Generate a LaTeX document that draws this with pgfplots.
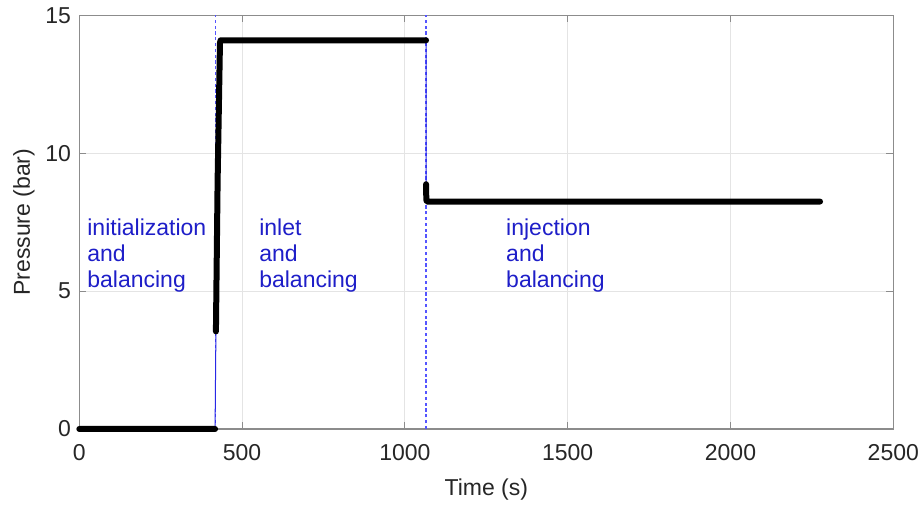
\documentclass[border=0pt]{standalone}
\usepackage{fontspec}
\setmainfont{Liberation Sans}
\usepackage{pgfplots}
\pgfplotsset{compat=1.18}
\usepackage{pgfplotstable}

\definecolor{axgray}{RGB}{140,140,140}
\definecolor{gridgray}{RGB}{228,228,228}
\definecolor{labgray}{RGB}{38,38,38}
\definecolor{txtblue}{RGB}{30,30,200}
\definecolor{lineblue}{RGB}{40,40,230}
\definecolor{dashblue}{RGB}{85,85,255}

% Measured pressure: full trace (thin connecting line)
\pgfplotstableread{
t p
0 0
417 0
419.6 3.54
424.8 9.0
432 14.0
434 14.1
1065 14.1
1065 8.88
1065.5 8.5
1066 8.3
1068 8.25
2275 8.25
}\pressureline

% Same samples, drawn as dense markers (jumps between phases left open)
\pgfplotstableread{
t p
0 0
417 0
nan nan
419.6 3.54
424.8 9.0
432 14.0
434 14.1
1065 14.1
nan nan
1065 8.88
1065.5 8.5
1066 8.3
1068 8.25
2275 8.25
}\pressuremarks

% Phase boundaries
\pgfplotstableread{
t p
418.2 0
418.2 15
nan nan
1064.5 0
1064.5 15
}\phases

\newcommand{\chartfont}{\fontsize{11.5}{13}\selectfont}

\begin{document}
\begin{tikzpicture}
\begin{axis}[
  scale only axis,
  width=407pt, height=206.75pt,
  xmin=0, xmax=2500, ymin=0, ymax=15,
  xtick={0,500,...,2500}, ytick={0,5,10,15},
  tick align=inside, tick pos=both,
  major tick length=3.5pt,
  grid=major,
  major grid style={gridgray, line width=0.5pt},
  axis line style={axgray, line width=0.6pt},
  tick style={axgray, line width=0.5pt},
  /pgf/number format/assume math mode=true,
  /pgf/number format/1000 sep={},
  scaled x ticks=false,
  ticklabel style={font=\chartfont, text=labgray},
  xticklabel style={yshift=-4pt},
  yticklabel style={xshift=-0.7pt},
  label style={font=\chartfont, text=labgray},
  xlabel={Time (s)},
  ylabel={Pressure (bar)},
  xlabel style={at={(axis description cs:0.5,-0.162)}, anchor=base},
  ylabel style={at={(axis description cs:-0.0608,0.5)}, anchor=base},
  unbounded coords=jump,
  clip=false,
]
% phase boundaries
\addplot[draw=dashblue, line width=0.7pt, dash pattern=on 1.6pt off 1.3pt] table[x=t, y=p] {\phases};
% pressure trace
\addplot[draw=lineblue, line width=0.5pt] table[x=t, y=p] {\pressureline};
\addplot[draw=black, line width=3pt, line cap=round, line join=round] table[x=t, y=p] {\pressuremarks};
% phase names
\node[anchor=north west, inner sep=0pt, align=left, text=txtblue, font=\chartfont]
  at (axis cs:23.6,7.65) {initialization\\and\\balancing};
\node[anchor=north west, inner sep=0pt, align=left, text=txtblue, font=\chartfont]
  at (axis cs:551.6,7.65) {inlet\\and\\balancing};
\node[anchor=north west, inner sep=0pt, align=left, text=txtblue, font=\chartfont]
  at (axis cs:1310,7.65) {injection\\and\\balancing};
\end{axis}
\pgfresetboundingbox
\path ([shift={(-39.65pt,-39pt)}]current axis.south west) rectangle ([shift={(13.85pt,7.75pt)}]current axis.north east);
\end{tikzpicture}
\end{document}
